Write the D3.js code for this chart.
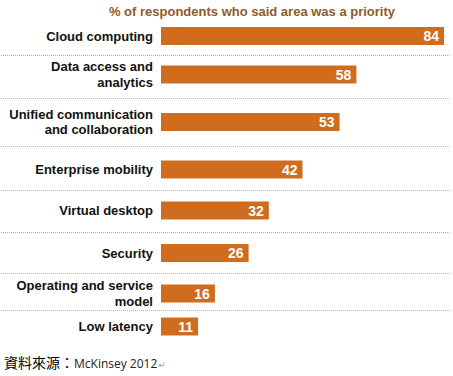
<!DOCTYPE html>
<html>
<head>
<meta charset="utf-8">
<script src="https://cdn.jsdelivr.net/npm/d3@7"></script>
<style>
  html, body { margin: 0; padding: 0; background: #fff; }
  svg { display: block; }
</style>
</head>
<body>
<script>
const categories = [
  "Cloud computing",
  "Data access and\nanalytics",
  "Unified communication\nand collaboration",
  "Enterprise mobility",
  "Virtual desktop",
  "Security",
  "Operating and service\nmodel",
  "Low latency"
];
const values = [84, 58, 53, 42, 32, 26, 16, 11];
const title = "% of respondents who said area was a priority";
const sourceLabel = "資料來源：";
const sourceText = "McKinsey 2012";

const W = 453, H = 376;
const svg = d3.select("body").append("svg").attr("width", W).attr("height", H);

const x = d3.scaleLinear().domain([0, 84]).range([161, 444]);
const y = d3.scaleOrdinal().domain(categories)
  .range([36, 74.5, 122, 169.5, 210.5, 253, 293.5, 326.5]);
const barH = 18;
const barColor = "#cf6c1e";

// title
svg.append("text")
  .attr("x", 252).attr("y", 16)
  .attr("text-anchor", "middle")
  .attr("font-family", "Liberation Sans, Arial, sans-serif")
  .attr("font-weight", "bold")
  .attr("font-size", 13)
  .attr("fill", "#8f5a2c")
  .text(title);

// separators (between rows)
const sepYs = categories.slice(0, -1).map((c, i) => (y(c) + y(categories[i + 1])) / 2);
svg.append("g").selectAll("line").data(sepYs).join("line")
  .attr("x1", 1).attr("x2", 451)
  .attr("y1", d => Math.round(d) + 0.5).attr("y2", d => Math.round(d) + 0.5)
  .attr("stroke", "#b4b4b4").attr("stroke-width", 1)
  .attr("stroke-dasharray", "1,1");

const data = categories.map((c, i) => ({ c, v: values[i] }));

// bars
svg.append("g").selectAll("rect").data(data).join("rect")
  .attr("x", x(0))
  .attr("y", d => y(d.c) - barH / 2)
  .attr("width", d => x(d.v) - x(0))
  .attr("height", barH)
  .attr("fill", barColor);

// value labels
svg.append("g").selectAll("text").data(data).join("text")
  .attr("x", d => x(d.v) - 5)
  .attr("y", d => y(d.c))
  .attr("dy", "0.36em")
  .attr("text-anchor", "end")
  .attr("font-family", "Liberation Sans, Arial, sans-serif")
  .attr("font-weight", "bold")
  .attr("font-size", 14)
  .attr("fill", "#ffffff")
  .text(d => d.v);

// category labels
const lineH = 15.5;
const lab = svg.append("g").selectAll("text").data(data).join("text")
  .attr("text-anchor", "end")
  .attr("font-family", "Liberation Sans, Arial, sans-serif")
  .attr("font-weight", "bold")
  .attr("font-size", 13)
  .attr("fill", "#111");
lab.each(function(d) {
  const lines = d.c.split("\n");
  const t = d3.select(this);
  const y0 = y(d.c) - (lines.length - 1) * lineH / 2;
  lines.forEach((ln, k) => {
    t.append("tspan").attr("x", 153).attr("y", y0 + k * lineH).attr("dy", "0.36em").text(ln);
  });
});

// source
const src = svg.append("text").attr("x", 4).attr("y", 368);
src.append("tspan")
  .attr("font-family", "Noto Sans CJK TC, sans-serif")
  .attr("font-size", 14).attr("fill", "#000")
  .text(sourceLabel);
src.append("tspan")
  .attr("font-family", "Open Sans, Liberation Sans, sans-serif")
  .attr("font-size", 12).attr("fill", "#222")
  .text(sourceText);
src.append("tspan")
  .attr("font-family", "DejaVu Sans, sans-serif")
  .attr("font-size", 9).attr("fill", "#999")
  .attr("dx", 1)
  .text("↵");
</script>
</body>
</html>
